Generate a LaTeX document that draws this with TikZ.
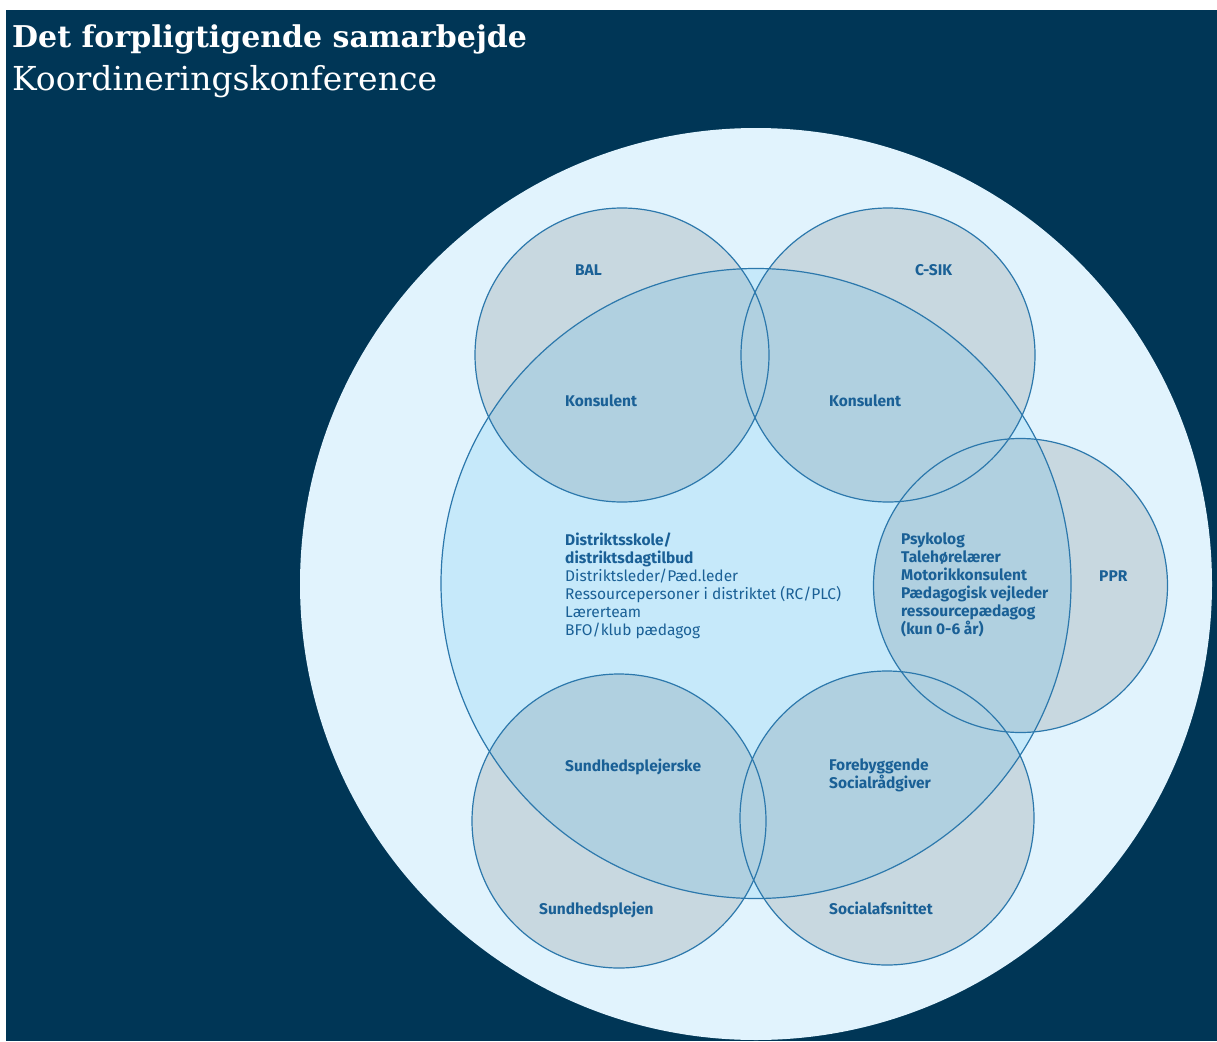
\documentclass[tikz,border=0pt]{standalone}
\usepackage{fontspec}
\setmainfont{Fira Sans}
\newfontfamily\slabfont{DejaVu Serif}
\usetikzlibrary{positioning}

\definecolor{navy}{RGB}{0,54,86}
\definecolor{paleblue}{RGB}{225,243,253}
\definecolor{lightblue}{RGB}{198,233,250}
\definecolor{greyblue}{RGB}{200,216,224}
\definecolor{midblue}{RGB}{176,208,224}
\definecolor{ringblue}{RGB}{44,120,172}
\definecolor{txtblue}{RGB}{26,96,150}

\begin{document}
\begin{tikzpicture}[x=1pt,y=-1pt,
        ring/.style={draw=ringblue, line width=1.2pt},
        lbl/.style={anchor=base west, inner sep=0pt, text=txtblue, font=\bfseries\fontsize{15.5}{18}\selectfont},
        lblock/.style={anchor=north west, inner sep=0pt, align=left, text=txtblue, font=\fontsize{15.5}{18}\selectfont}]
    \useasboundingbox (0,0) rectangle (1217,1041);
    \fill[navy] (6,10) rectangle (1217,1041);
    % title
    \node (title) [anchor=base west, inner sep=0pt, text=white, font=\slabfont\bfseries\fontsize{30}{36}\selectfont] at (12,48) {Det forpligtigende samarbejde};
    \node (subtitle) [anchor=base west, inner sep=0pt, text=white, font=\slabfont\fontsize{33}{36}\selectfont] at (12,90) {Koordineringskonference};
    % circles
    \coordinate (centre) at (756,584);
    \coordinate (dist) at (756,583.5);
    \coordinate (bal) at (622,355);
    \coordinate (csik) at (888,355);
    \coordinate (ppr) at (1020.5,585.5);
    \coordinate (sund) at (619,821);
    \coordinate (soc) at (887,818);
    \fill[paleblue] (centre) circle[radius=456pt];
    \foreach \c in {bal,csik,ppr,sund,soc}
        \fill[greyblue] (\c) circle[radius=147pt];
    \fill[lightblue] (dist) circle[radius=315pt];
    \begin{scope}
        \clip (dist) circle[radius=315pt];
        \foreach \c in {bal,csik,ppr,sund,soc}
            \fill[midblue] (\c) circle[radius=147pt];
    \end{scope}
    \draw[ring] (dist) circle[radius=315pt];
    \foreach \c in {bal,csik,ppr,sund,soc}
        \draw[ring] (\c) circle[radius=147pt];
    % labels
    \node (balname) [lbl] at (575,275) {BAL};
    \node (csikname) [lbl] at (915,275) {C-SIK};
    \node (balkons) [lbl] at (565,406) {Konsulent};
    \node (csikkons) [lbl] at (829,406) {Konsulent};
    \node (pprname) [lbl] at (1099,581) {PPR};
    \node (sundplej) [lbl] at (565,771) {Sundhedsplejerske};
    \node (forebyg) [lblock, font=\bfseries\fontsize{15.5}{18}\selectfont] at (829,759) {Forebyggende\\Socialrådgiver};
    \node (sundname) [lbl] at (539,914) {Sundhedsplejen};
    \node (socname) [lbl] at (829,914) {Socialafsnittet};
    \node (distblock) [lblock] at (565,533) {\textbf{Distriktsskole/}\\\textbf{distriktsdagtilbud}\\Distriktsleder/Pæd.leder\\Ressourcepersoner i distriktet (RC/PLC)\\Lærerteam\\BFO/klub pædagog};
    \node (pprblock) [lblock, font=\bfseries\fontsize{15.5}{18}\selectfont] at (901,533) {Psykolog\\Talehørelærer\\Motorikkonsulent\\Pædagogisk vejleder\\ressourcepædagog\\(kun 0-6 år)};
\end{tikzpicture}
\end{document}
